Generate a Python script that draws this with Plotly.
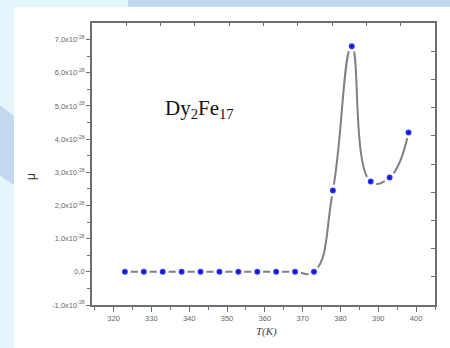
import plotly.graph_objects as go

# Data
temps = [323, 328, 333, 338, 343, 348, 353, 358, 363, 368, 373, 378, 383, 388, 393, 398]
mu = [0, 0, 0, 0, 0, 0, 0, 0, 0, 0, 0, 2.45e-28, 6.80e-28, 2.72e-28, 2.84e-28, 4.20e-28]

ytick_vals = [-1e-28, 0, 1e-28, 2e-28, 3e-28, 4e-28, 5e-28, 6e-28, 7e-28]
ytick_text = ["-1,0x10<sup>-28</sup>", "0,0", "1,0x10<sup>-28</sup>", "2,0x10<sup>-28</sup>",
              "3,0x10<sup>-28</sup>", "4,0x10<sup>-28</sup>", "5,0x10<sup>-28</sup>",
              "6,0x10<sup>-28</sup>", "7,0x10<sup>-28</sup>"]
xtick_vals = [320, 330, 340, 350, 360, 370, 380, 390, 400]

W, H = 450, 348
ML, MR, MT, MB = 92, 15, 23, 43
PW, PH = W - ML - MR, H - MT - MB

def px(x):
    return (x - ML) / PW

def py(y):
    return (H - MB - y) / PH

axis_col = "#6e6e6e"
fig = go.Figure()

fig.add_trace(go.Scatter(
    x=temps, y=mu, mode="lines",
    line=dict(color="#808080", width=2, shape="spline", smoothing=1.3),
    hoverinfo="skip", showlegend=False))
fig.add_trace(go.Scatter(
    x=temps, y=mu, mode="markers",
    marker=dict(size=9, color="#5a6cff",
                gradient=dict(type="radial", color="#0000d8"),
                line=dict(color="white", width=3)),
    showlegend=False))
fig.add_trace(go.Scatter(x=[5], y=[5], xaxis="x2", yaxis="y2", mode="markers",
                         marker=dict(opacity=0), hoverinfo="skip", showlegend=False))

fig.update_layout(
    width=W, height=H,
    margin=dict(l=ML, r=MR, t=MT, b=MB),
    paper_bgcolor="#e4f6fc",
    plot_bgcolor="rgba(0,0,0,0)",
    xaxis=dict(range=[314.3, 405], tickvals=xtick_vals, ticks="outside", ticklen=5,
               tickwidth=1, tickcolor=axis_col, showline=True, linecolor=axis_col, linewidth=1.5,
               showgrid=False, zeroline=False,
               tickfont=dict(family="Arial, Liberation Sans", size=7.5, color="#666"),
               minor=dict(tickvals=[315, 325, 335, 345, 355, 365, 375, 385, 395, 405],
                          ticks="outside", ticklen=3, tickcolor=axis_col)),
    yaxis=dict(range=[-1.0e-28, 7.5e-28], tickvals=ytick_vals, ticktext=ytick_text,
               ticks="outside", ticklen=4, tickwidth=1, tickcolor=axis_col,
               showline=True, linecolor=axis_col, linewidth=1.5,
               showgrid=False, zeroline=False,
               tickfont=dict(family="Arial, Liberation Sans", size=7.5, color="#666"),
               minor=dict(tickvals=[-0.5e-28, 0.5e-28, 1.5e-28, 2.5e-28, 3.5e-28, 4.5e-28,
                                    5.5e-28, 6.5e-28],
                          ticks="outside", ticklen=3, tickcolor=axis_col)),
    xaxis2=dict(overlaying="x", side="top", anchor="y2", range=[0, 10], dtick=1,
                ticks="inside", ticklen=3, tickcolor=axis_col, showticklabels=False,
                showline=True, linecolor=axis_col, linewidth=1.5, showgrid=False, zeroline=False),
    yaxis2=dict(overlaying="y", side="right", anchor="x2", range=[0, 10], dtick=1,
                ticks="inside", ticklen=4, tickcolor=axis_col, showticklabels=False,
                showline=True, linecolor=axis_col, linewidth=1.5, showgrid=False, zeroline=False),
    shapes=[
        dict(type="rect", xref="paper", yref="paper", x0=px(14), x1=px(452), y0=py(7), y1=py(350),
             fillcolor="white", line=dict(width=0), layer="below"),
        dict(type="rect", xref="paper", yref="paper", x0=px(128), x1=px(452), y0=py(-2), y1=py(7),
             fillcolor="#c3d8ee", line=dict(width=0), layer="below"),
        dict(type="path", xref="paper", yref="paper", layer="below",
             path=f"M {px(-2)},{py(104)} L {px(14)},{py(116)} L {px(14)},{py(185)} L {px(-2)},{py(174)} Z",
             fillcolor="#c3d8ee", line=dict(width=0)),
    ],
    annotations=[
        dict(x=342.6, y=4.9e-28, xref="x", yref="y", showarrow=False,
             text="Dy<sub>2</sub>Fe<sub>17</sub>",
             font=dict(family="Liberation Serif, Times New Roman", size=21, color="#111")),
        dict(x=px(22), y=py(177), xref="paper", yref="paper", showarrow=False, textangle=-90,
             text="μ", font=dict(family="Arial, Liberation Sans", size=12, color="#333")),
        dict(x=px(266), y=py(340), xref="paper", yref="paper", showarrow=False,
             text="<i>T(K)</i>", font=dict(family="Liberation Serif, Times New Roman", size=11, color="#444")),
    ],
)

fig.write_html("out.html")
